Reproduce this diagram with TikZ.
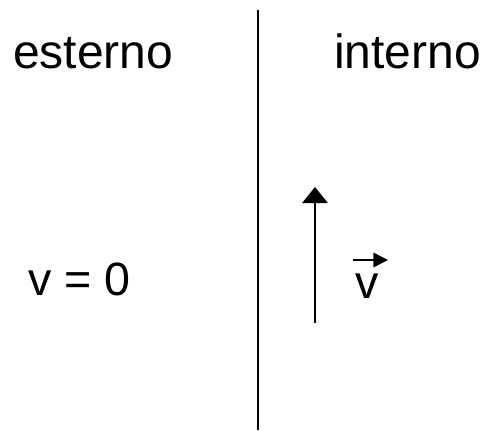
\documentclass[tikz,border=0pt]{standalone}
\usepackage{fontspec}
\setmainfont{Liberation Sans}
\usetikzlibrary{arrows.meta}

\tikzset{
  heading/.style={anchor=base west, inner sep=0pt, font=\fontsize{36}{40}\selectfont},
  label/.style={anchor=base west, inner sep=0pt, font=\fontsize{35}{39}\selectfont},
}

\begin{document}
\begin{tikzpicture}[x=0.75pt, y=-0.75pt]
            \useasboundingbox (0,0) rectangle (482,430);
            % wall
            \coordinate (walltop) at (258,10);
            \coordinate (wallbot) at (258,430);
            \draw[line width=1.5pt] (walltop)--(wallbot);
            % sides
            \node[heading] (ext) at (13,68) {esterno};
            \node[heading] (int) at (334,68) {interno};
            % velocity
            \node[label] (vzero) at (28,295) {v = 0};
            \coordinate (vtail) at (315,323);
            \coordinate (vtip) at (315,187);
            \draw[line width=1.5pt, -{Triangle[length=12pt, width=19pt]}] (vtail)--(vtip);
            \node[label] (vvec) at (355,298) {v};
            \coordinate (vecl) at (353,260);
            \coordinate (vecr) at (388,260);
            \draw[line width=1.1pt, -{Triangle[length=11pt, width=11pt]}] (vecl)--(vecr);
        \end{tikzpicture}
\end{document}
